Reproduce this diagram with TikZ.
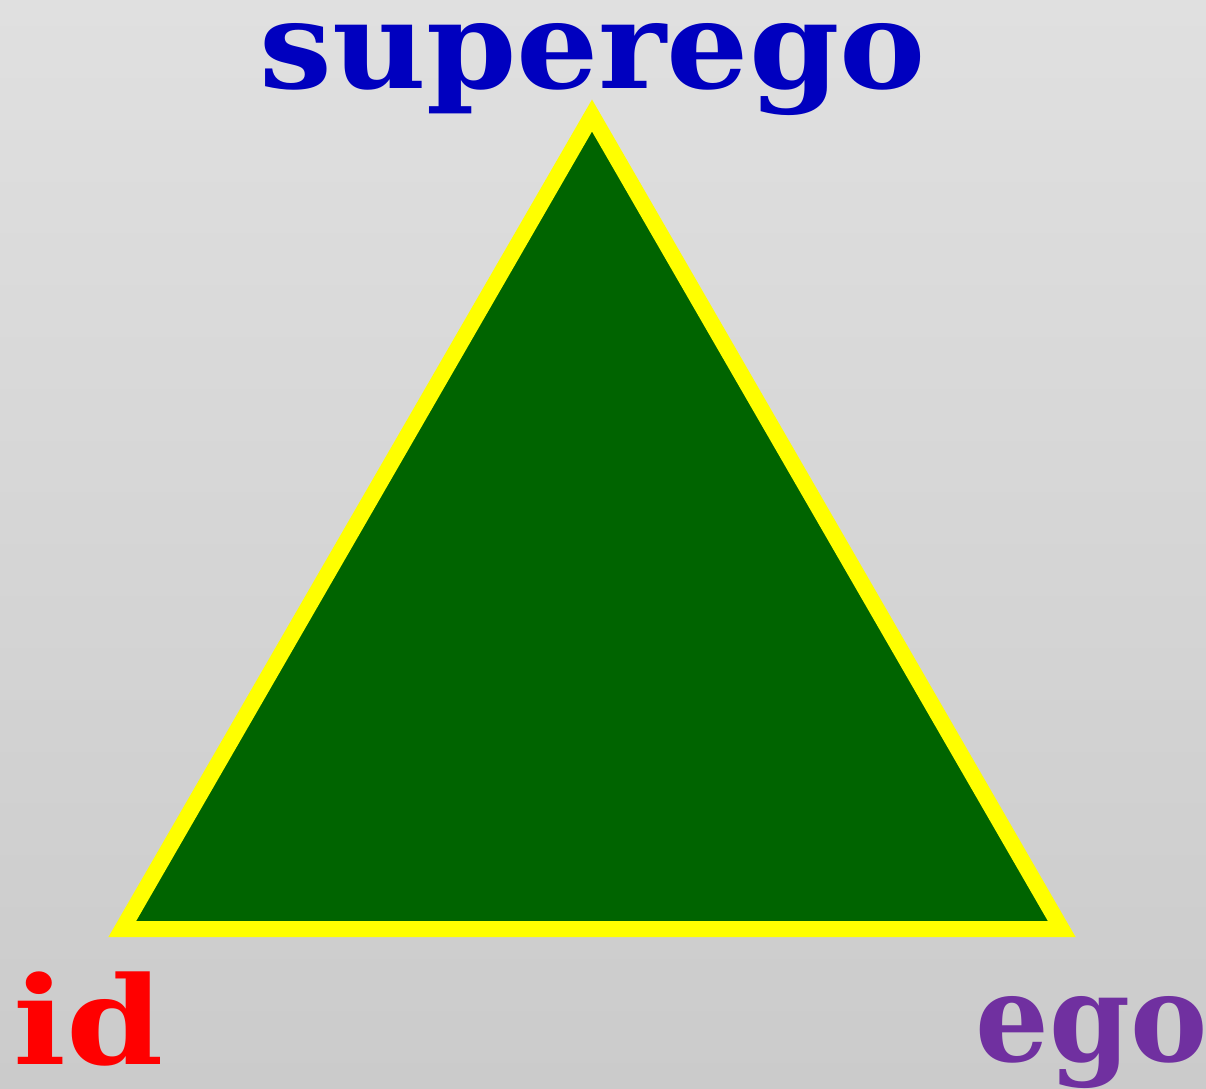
\documentclass[tikz,border=0pt]{standalone}
\usepackage{fontspec}
\setmainfont{DejaVu Serif}
\definecolor{bgtop}{HTML}{E0E0E0}
\definecolor{bgbot}{HTML}{CBCBCB}
\definecolor{trigreen}{HTML}{006400}
\definecolor{triyellow}{HTML}{FFFF00}
\definecolor{supblue}{HTML}{0000BF}
\definecolor{idred}{HTML}{FF0000}
\definecolor{egopurple}{HTML}{7030A0}
\tikzset{
  lbl/.style={font=\fontsize{122}{126}\selectfont\bfseries, inner sep=0pt, anchor=base},
  tri/.style={fill=trigreen, draw=triyellow, line width=16pt, line join=miter}
}
\begin{document}
\begin{tikzpicture}[x=1pt,y=-1pt]
\shade[top color=bgtop, bottom color=bgbot] (0,0) rectangle (1206,1088);
\useasboundingbox (0,0) rectangle (1206,1088);
\coordinate (T) at (592,115.5);
\coordinate (L) at (122.3,929);
\coordinate (R) at (1061.7,929);
\draw[tri] (T) -- (L) -- (R) -- cycle;
\node[lbl, text=supblue, xscale=1.06] (sup) at (592.5,88) {superego};
\node[lbl, text=idred, xscale=1.14] (id) at (89,1064) {id};
\node[lbl, text=egopurple, xscale=0.95] (ego) at (1091.5,1061) {ego};
\end{tikzpicture}
\end{document}
